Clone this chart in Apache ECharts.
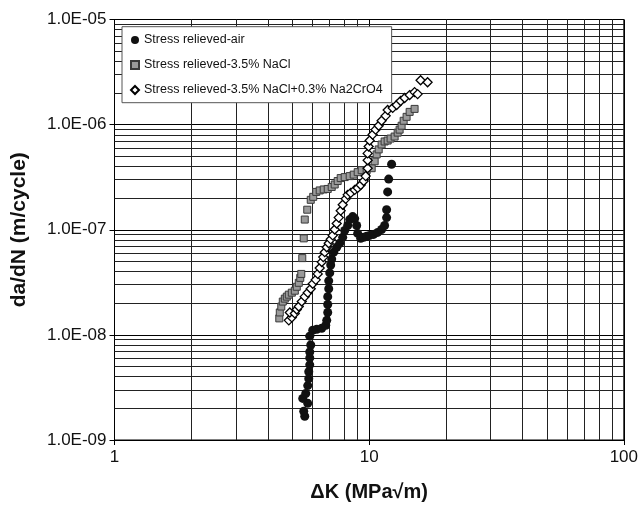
<!DOCTYPE html>
<html><head><meta charset="utf-8">
<script src="https://cdn.jsdelivr.net/npm/echarts@6/dist/echarts.min.js"></script>
<style>html,body{margin:0;padding:0;background:#fff}#c{width:641px;height:507px}</style>
</head><body><div id="c"></div>
<script>
const seriesNames = ['Stress relieved-air', 'Stress relieved-3.5% NaCl', 'Stress relieved-3.5% NaCl+0.3% Na2CrO4'];

const airK = [5.586, 5.535, 5.739, 5.485, 5.636, 5.739, 5.791, 5.791, 5.844, 5.844, 5.844, 5.897, 5.844, 6.004, 6.226, 6.513, 6.752, 6.814, 6.876, 6.876, 6.876, 6.938, 6.938, 7.001, 7.064, 7.128, 7.258, 7.457, 7.662, 7.872, 8.016, 8.236, 8.386, 8.616, 8.773, 8.933, 9.015, 9.262, 9.515, 9.777, 10.045, 10.41, 10.80, 11.19, 11.50, 11.71, 11.71, 11.82, 11.93, 12.25];
const airRate = [1.684e-9, 1.877e-9, 2.232e-9, 2.487e-9, 2.772e-9, 3.295e-9, 3.834e-9, 4.461e-9, 5.190e-9, 6.039e-9, 6.877e-9, 8.002e-9, 9.723e-9, 1.107e-8, 1.131e-8, 1.156e-8, 1.233e-8, 1.374e-8, 1.634e-8, 1.943e-8, 2.311e-8, 2.747e-8, 3.266e-8, 3.884e-8, 4.618e-8, 5.258e-8, 6.119e-8, 6.818e-8, 7.435e-8, 8.466e-8, 9.849e-8, 1.098e-7, 1.250e-7, 1.334e-7, 1.277e-7, 1.098e-7, 9.23e-8, 8.28e-8, 8.466e-8, 8.65e-8, 8.84e-8, 9.03e-8, 9.43e-8, 1.006e-7, 1.098e-7, 1.305e-7, 1.551e-7, 2.291e-7, 3.034e-7, 4.197e-7];

const naclK = [4.437, 4.457, 4.518, 4.580, 4.664, 4.749, 4.836, 4.969, 5.105, 5.197, 5.292, 5.364, 5.413, 5.462, 5.535, 5.586, 5.713, 5.897, 6.031, 6.196, 6.395, 6.630, 6.876, 7.128, 7.324, 7.523, 7.731, 8.016, 8.386, 8.695, 9.015, 9.346, 9.777, 10.23, 10.51, 10.70, 10.90, 11.19, 11.50, 11.82, 12.14, 12.59, 12.94, 13.17, 13.41, 13.66, 14.03, 14.42, 15.08];
const naclRate = [1.435e-8, 1.634e-8, 1.861e-8, 2.074e-8, 2.212e-8, 2.311e-8, 2.413e-8, 2.520e-8, 2.631e-8, 2.869e-8, 3.128e-8, 3.486e-8, 3.801e-8, 5.373e-8, 8.28e-8, 1.250e-7, 1.551e-7, 1.926e-7, 2.056e-7, 2.291e-7, 2.366e-7, 2.418e-7, 2.444e-7, 2.553e-7, 2.695e-7, 2.906e-7, 3.101e-7, 3.169e-7, 3.238e-7, 3.345e-7, 3.531e-7, 3.687e-7, 3.687e-7, 3.851e-7, 4.48e-7, 5.21e-7, 5.81e-7, 6.47e-7, 6.91e-7, 7.06e-7, 7.37e-7, 7.70e-7, 8.39e-7, 8.96e-7, 9.76e-7, 1.088e-6, 1.186e-6, 1.322e-6, 1.411e-6];

const crK = [4.836, 4.969, 4.880, 5.105, 5.197, 5.292, 5.437, 5.586, 5.739, 5.897, 6.004, 6.169, 6.281, 6.395, 6.513, 6.602, 6.693, 6.814, 6.938, 7.064, 7.193, 7.324, 7.457, 7.594, 7.731, 7.872, 8.089, 8.236, 8.462, 8.773, 9.015, 9.262, 9.515, 9.689, 9.865, 9.865, 9.865, 9.954, 10.045, 10.32, 10.60, 10.90, 11.19, 11.61, 11.82, 12.37, 12.82, 13.29, 13.78, 14.42, 15.08, 15.50, 15.92, 16.96];
const crRate = [1.374e-8, 1.467e-8, 1.634e-8, 1.600e-8, 1.744e-8, 1.861e-8, 2.074e-8, 2.311e-8, 2.520e-8, 2.747e-8, 3.061e-8, 3.338e-8, 3.801e-8, 4.327e-8, 4.926e-8, 5.491e-8, 6.119e-8, 6.818e-8, 7.435e-8, 8.10e-8, 8.84e-8, 1.006e-7, 1.146e-7, 1.305e-7, 1.518e-7, 1.729e-7, 1.968e-7, 2.147e-7, 2.242e-7, 2.392e-7, 2.498e-7, 2.666e-7, 2.906e-7, 3.238e-7, 3.851e-7, 4.578e-7, 5.326e-7, 6.198e-7, 7.06e-7, 8.04e-7, 8.96e-7, 9.76e-7, 1.088e-6, 1.212e-6, 1.380e-6, 1.441e-6, 1.538e-6, 1.677e-6, 1.790e-6, 1.910e-6, 2.038e-6, 1.952e-6, 2.642e-6, 2.530e-6];

const xTickLabels = ['1', '10', '100'];
const yTickLabels = ['1.0E-09', '1.0E-08', '1.0E-07', '1.0E-06', '1.0E-05'];
const xRange = [1, 100];
const yRange = [1e-9, 1e-5];
const xMinorGrid = [2, 3, 4, 5, 6, 7, 8, 9, 20, 30, 40, 50, 60, 70, 80, 90];
const yDecades = [1e-9, 1e-8, 1e-7, 1e-6];
const yMinorGrid = [];
yDecades.forEach(d => { for (let m = 2; m <= 9; m++) yMinorGrid.push(m * d); });

const pairs = (xs, ys) => xs.map((x, i) => [x, ys[i]]);
const FONT = 'Liberation Sans';

const gridLines = xMinorGrid.map(v => [{ coord: [v, yRange[0]] }, { coord: [v, yRange[1]] }])
  .concat(yMinorGrid.map(v => [{ coord: [xRange[0], v] }, { coord: [xRange[1], v] }]));

const chart = echarts.init(document.getElementById('c'), null, { renderer: 'canvas' });
chart.setOption({
  animation: false,
  backgroundColor: '#fff',
  textStyle: { fontFamily: FONT },
  grid: { left: 114.5, top: 19.5, width: 510, height: 425.5, show: true, borderColor: '#000', borderWidth: 1, containLabel: false },
  xAxis: {
    type: 'log', logBase: 10, min: xRange[0], max: xRange[1],
    name: 'ΔK (MPa√m)', nameLocation: 'middle', nameGap: 42,
    nameTextStyle: { fontFamily: FONT, fontSize: 20, fontWeight: 'bold', color: '#111' },
    axisLine: { lineStyle: { color: '#000', width: 1 } },
    axisTick: { show: true, length: 5, lineStyle: { color: '#000' } },
    minorTick: { show: false },
    axisLabel: { margin: 9, fontSize: 17, color: '#111', fontFamily: FONT,
      formatter: v => xTickLabels[Math.round(Math.log10(v))] },
    splitLine: { show: true, lineStyle: { color: '#000', width: 1 } }
  },
  yAxis: {
    type: 'log', logBase: 10, min: yRange[0], max: yRange[1],
    name: 'da/dN (m/cycle)', nameLocation: 'middle', nameGap: 85,
    nameTextStyle: { fontFamily: FONT, fontSize: 21, fontWeight: 'bold', color: '#111' },
    axisLine: { lineStyle: { color: '#000', width: 1 } },
    axisTick: { show: true, length: 5, lineStyle: { color: '#000' } },
    axisLabel: { margin: 8, fontSize: 17, color: '#111', fontFamily: FONT,
      formatter: v => yTickLabels[Math.round(Math.log10(v)) + 9] },
    splitLine: { show: true, lineStyle: { color: '#000', width: 1 } }
  },
  legend: {
    orient: 'vertical', left: 122, top: 26.7,
    padding: [6.3, 9, 5.7, 8],
    itemGap: 11, itemWidth: 8, itemHeight: 8,
    backgroundColor: '#fff', borderColor: '#555', borderWidth: 1,
    textStyle: { fontFamily: FONT, fontSize: 12.5, color: '#111', lineHeight: 14 },
    data: seriesNames
  },
  series: [
    {
      name: '_grid', type: 'scatter', data: [], silent: true, z: 1,
      markLine: {
        silent: true, z: 1, symbol: ['none', 'none'], label: { show: false },
        lineStyle: { color: '#222', width: 1, type: 'solid' },
        emphasis: { disabled: true },
        data: gridLines
      }
    },
    {
      name: seriesNames[1], type: 'scatter', data: pairs(naclK, naclRate),
      symbol: 'rect', symbolSize: 7, z: 2,
      itemStyle: { color: '#9a9a9a', borderColor: '#3a3a3a', borderWidth: 1, opacity: 1 }
    },
    {
      name: seriesNames[2], type: 'scatter', data: pairs(crK, crRate),
      symbol: 'diamond', symbolSize: 9, z: 3,
      itemStyle: { color: '#fff', borderColor: '#000', borderWidth: 1.3, opacity: 1 }
    },
    {
      name: seriesNames[0], type: 'scatter', data: pairs(airK, airRate),
      symbol: 'circle', symbolSize: 9, z: 4,
      itemStyle: { color: '#111', opacity: 1 }
    }
  ]
});
</script></body></html>
